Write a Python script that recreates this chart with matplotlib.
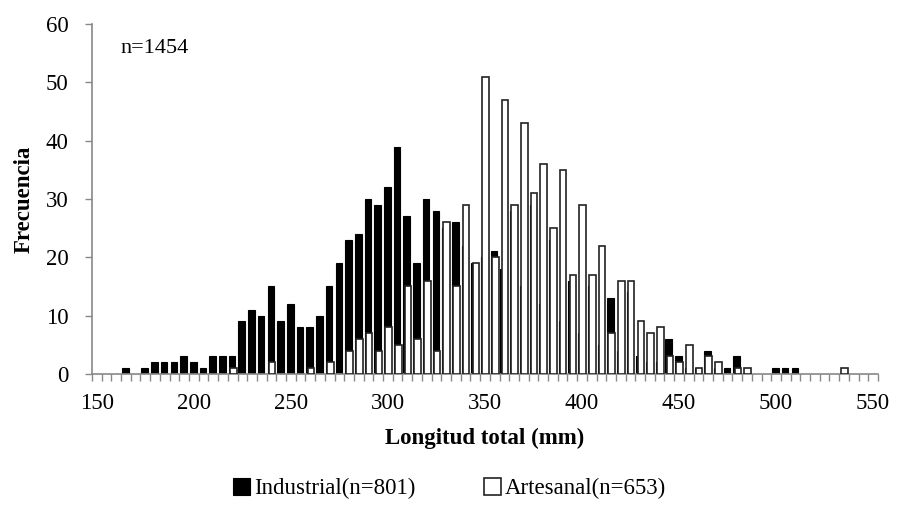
import numpy as np
import matplotlib
matplotlib.use("Agg")
import matplotlib.pyplot as plt

plt.rcParams['font.family'] = ['Liberation Serif', 'DejaVu Serif']

# longitud total (mm), clases de 5 mm
clases = np.arange(150, 555, 5)

industrial = {
    165: 1, 175: 1, 180: 2, 185: 2, 190: 2, 195: 3, 200: 2, 205: 1, 210: 3,
    215: 3, 220: 3, 225: 9, 230: 11, 235: 10, 240: 15, 245: 9, 250: 12,
    255: 8, 260: 8, 265: 10, 270: 15, 275: 19, 280: 23, 285: 24, 290: 30,
    295: 29, 300: 32, 305: 39, 310: 27, 315: 19, 320: 30, 325: 28, 330: 25,
    335: 26, 340: 22, 345: 19, 350: 20, 355: 21, 360: 18, 365: 28, 370: 15,
    375: 29, 380: 12, 385: 23, 390: 9, 395: 16, 400: 7, 405: 15, 410: 5,
    415: 13, 420: 4, 425: 14, 430: 3, 435: 2, 440: 2, 445: 6, 450: 3,
    455: 1, 460: 1, 465: 4, 470: 1, 475: 1, 480: 3, 500: 1, 505: 1, 510: 1,
}
artesanal = {
    220: 1, 240: 2, 260: 1, 270: 2, 280: 4, 285: 6, 290: 7, 295: 4, 300: 8,
    305: 5, 310: 15, 315: 6, 320: 16, 325: 4, 330: 26, 335: 15, 340: 29,
    345: 19, 350: 51, 355: 20, 360: 47, 365: 29, 370: 43, 375: 31, 380: 36,
    385: 25, 390: 35, 395: 17, 400: 29, 405: 17, 410: 22, 415: 7, 420: 16,
    425: 16, 430: 9, 435: 7, 440: 8, 445: 3, 450: 2, 455: 5, 460: 1,
    465: 3, 470: 2, 480: 1, 485: 1, 535: 1,
}

ind = np.array([industrial.get(c, 0) for c in clases])
art = np.array([artesanal.get(c, 0) for c in clases])

fig = plt.figure(figsize=(8.99, 5.21), dpi=100)
ax = fig.add_axes([0.1023, 0.2822, 0.8743, 0.6717])

w = 3.4
ax.bar(clases - 0.3, np.where(ind > 0, ind, np.nan), width=w, color='black',
       edgecolor='black', linewidth=0.8, zorder=2, label='Industrial(n=801)')
ax.bar(clases + 0.3, np.where(art > 0, art, np.nan), width=w, color='white',
       edgecolor='#222222', linewidth=1.2, zorder=3, label='Artesanal(n=653)')

ax.set_xlim(147.5, 552.5)
ax.set_ylim(0, 60)
ax.set_yticks(np.arange(0, 61, 10))
ax.set_xticks(np.arange(150, 551, 50))
ax.set_xticks(np.arange(147.5, 553, 5), minor=True)
ax.tick_params(axis='x', which='major', length=0, pad=14, labelsize=16.5)
ax.tick_params(axis='x', which='minor', length=5, color='#888888', width=1)
ax.tick_params(axis='y', length=5, color='#888888', width=1, pad=12, labelsize=16.5)

for s in ['top', 'right']:
    ax.spines[s].set_visible(False)
for s in ['left', 'bottom']:
    ax.spines[s].set_color('#888888')
    ax.spines[s].set_linewidth(1.2)

ax.set_ylabel('Frecuencia', fontsize=16.5, fontweight='bold', labelpad=8)
ax.set_xlabel('Longitud total (mm)', fontsize=16.5, fontweight='bold', labelpad=10)
ax.text(0.036, 0.93, 'n=1454', transform=ax.transAxes, fontsize=16, va='center')

fig.legend(loc='center', bbox_to_anchor=(0.5, 0.062), ncol=2, frameon=False,
           fontsize=16.5, handlelength=0.75, handleheight=0.75, handletextpad=0.15,
           columnspacing=3.0)

fig.savefig('out.png', dpi=100)
